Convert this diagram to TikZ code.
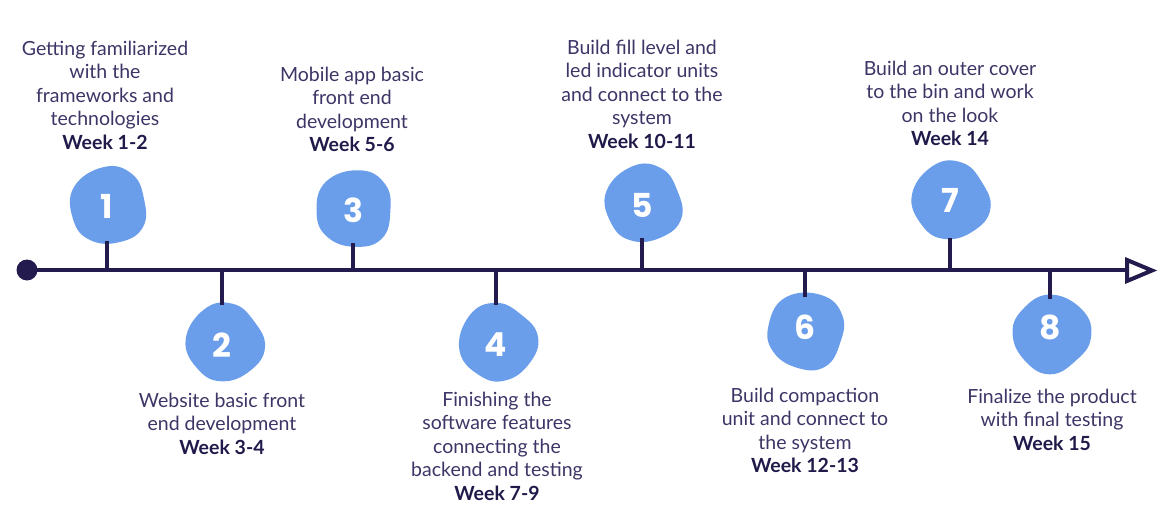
\documentclass[tikz,border=0pt]{standalone}
\usepackage{fontspec}
\setmainfont{Lato}
\newfontfamily\numfont{Poppins}[UprightFont=* Bold]
\definecolor{navy}{HTML}{231B4D}
\definecolor{labeltext}{HTML}{3D3566}
\definecolor{weektext}{HTML}{1F1A4A}
\definecolor{blobblue}{HTML}{6B9EEA}
\begin{document}
\begin{tikzpicture}[x=1pt,y=-1pt,
  axis/.style={navy,line width=4.5pt},
  stem/.style={navy,line width=4pt},
  marker/.style={circle,inner sep=0pt,minimum size=70pt,text=white,
    font=\numfont\fontsize{33}{33}\selectfont},
  label/.style={anchor=north,align=center,inner sep=0pt,text=labeltext,
    font=\fontsize{19.5}{23.5}\selectfont},
  blob/.pic={\fill[blobblue] plot[smooth cycle,tension=0.75] coordinates
    {(-4,-38) (24,-31) (36,-6) (35,22) (12,37) (-18,35) (-35,14) (-34,-18)};}
]
\useasboundingbox (0,0) rectangle (1165,511);

% main time axis
\node[circle,fill=navy,inner sep=0pt,minimum size=21pt] (start) at (27,270) {};
\coordinate (tipbase) at (1126,270);
\draw[axis] (start.center) -- (tipbase);
\draw[navy,line width=4pt,line join=miter,fill=white]
  (1127,260) -- (1152,270.5) -- (1127,281) -- cycle;

% milestone blobs
\pic[rotate=0] at (108,205) {blob};
\pic[rotate=25] at (224,342) {blob};
\pic[rotate=-15] at (354,208) {blob};
\pic[rotate=40] at (497,342) {blob};
\pic[rotate=10] at (643,203) {blob};
\pic[rotate=-30] at (806,330) {blob};
\pic[rotate=20] at (950,200) {blob};
\pic[rotate=-60] at (1052,333) {blob};

\node[marker] (m1) at (107,206) {1};
\node[marker] (m2) at (222,345) {2};
\node[marker] (m3) at (353,210) {3};
\node[marker] (m4) at (496,345) {4};
\node[marker] (m5) at (642,205) {5};
\node[marker] (m6) at (805,327) {6};
\node[marker] (m7) at (950,200) {7};
\node[marker] (m8) at (1050,327) {8};

% stems from blobs to the axis
\coordinate (a1) at (107,270);
\coordinate (a2) at (222,270);
\coordinate (a3) at (353,270);
\coordinate (a4) at (496,270);
\coordinate (a5) at (642,270);
\coordinate (a6) at (805,270);
\coordinate (a7) at (950,270);
\coordinate (a8) at (1050,270);
\draw[stem] (m1.center) ++(0,35) -- (a1);
\draw[stem] (m2.center) ++(0,-40) -- (a2);
\draw[stem] (m3.center) ++(0,33) -- (a3);
\draw[stem] (m4.center) ++(0,-40) -- (a4);
\draw[stem] (m5.center) ++(0,33) -- (a5);
\draw[stem] (m6.center) ++(0,-30) -- (a6);
\draw[stem] (m7.center) ++(0,38) -- (a7);
\draw[stem] (m8.center) ++(0,-28) -- (a8);

% descriptions
\node[label] (t1) at (105,40.5) {Getting familiarized\\with the\\frameworks and\\technologies\\{\color{weektext}\bfseries Week 1-2}};
\node[label] (t2) at (222,392.5) {Website basic front\\end development\\{\color{weektext}\bfseries Week 3-4}};
\node[label] (t3) at (352,66.5) {Mobile app basic\\front end\\development\\{\color{weektext}\bfseries Week 5-6}};
\node[label] (t4) at (497,391.5) {Finishing the\\software features\\connecting the\\backend and testing\\{\color{weektext}\bfseries Week 7-9}};
\node[label] (t5) at (642,39.5) {Build fill level and\\led indicator units\\and connect to the\\system\\{\color{weektext}\bfseries Week 10-11}};
\node[label] (t6) at (805,387.5) {Build compaction\\unit and connect to\\the system\\{\color{weektext}\bfseries Week 12-13}};
\node[label] (t7) at (950,60.5) {Build an outer cover\\to the bin and work\\on the look\\{\color{weektext}\bfseries Week 14}};
\node[label] (t8) at (1052,388.5) {Finalize the product\\with final testing\\{\color{weektext}\bfseries Week 15}};
\end{tikzpicture}
\end{document}
